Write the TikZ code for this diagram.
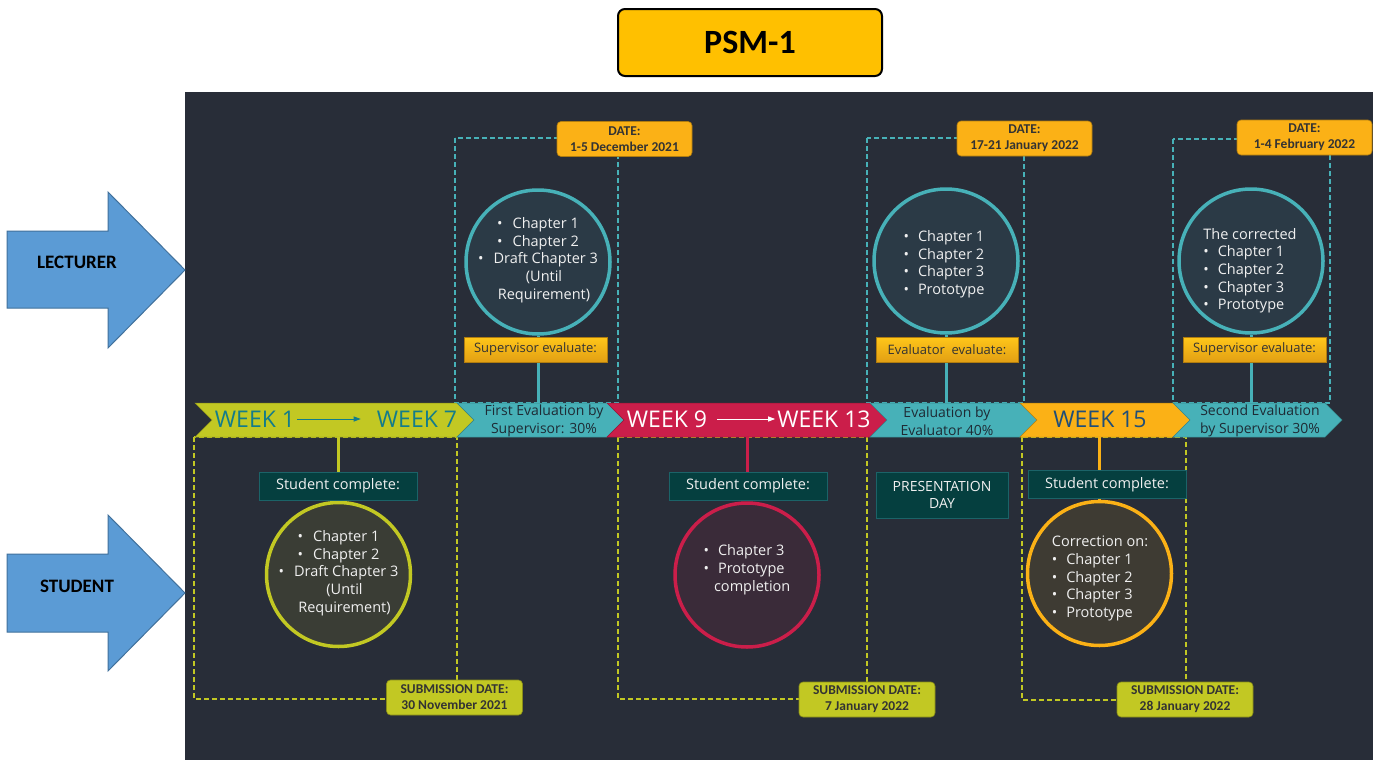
\documentclass[tikz,border=0pt]{standalone}
\usepackage{fontspec}
\setmainfont{Open Sans}
\newfontfamily\calfont{Carlito}
\usetikzlibrary{shapes.symbols,arrows.meta}
\definecolor{panel}{HTML}{282D38}
\definecolor{tealc}{HTML}{47B1B8}
\definecolor{ygc}{HTML}{C2C823}
\definecolor{redc}{HTML}{CB1E4A}
\definecolor{orc}{HTML}{FBB116}
\definecolor{gold}{HTML}{FFC000}
\definecolor{wkteal}{HTML}{137C8B}
\definecolor{wkblue}{HTML}{1F4E79}
\definecolor{segtext}{HTML}{1E2B35}
\definecolor{cup}{HTML}{2B3A46}
\definecolor{cyg}{HTML}{3A3D35}
\definecolor{cred}{HTML}{3A2B39}
\definecolor{cor}{HTML}{3E3B33}
\definecolor{scfill}{HTML}{053F3F}
\definecolor{scdraw}{HTML}{1B6368}
\definecolor{ctext}{HTML}{F0F0F0}
\definecolor{blueA}{HTML}{5B9BD5}
\definecolor{blueB}{HTML}{41719C}
\definecolor{dtext}{HTML}{333333}
\tikzset{
  seg/.style={signal, signal to=east, signal from=west, minimum height=34, inner sep=0, outer sep=0, fill=#1, draw=#1!75!black, line width=0.5},
  segtxt/.style={text=segtext, font=\fontsize{14}{18}\selectfont, align=center},
  wk/.style={font=\fontsize{23}{26}\selectfont, inner sep=2},
  circ/.style={circle, minimum size=144, inner sep=0, line width=3.5},
  ctxt/.style={text=ctext, font=\fontsize{14.5}{17.7}\selectfont, inner sep=0},
  conn/.style={line width=3},
  supbox/.style={minimum width=143, minimum height=25, inner sep=0, top color=gold!90!white, bottom color=orc!90!black, draw=orc!70!black, line width=0.5, text=dtext, font=\fontsize{13}{15}\selectfont},
  scbox/.style={minimum width=158, minimum height=28, inner sep=0, fill=scfill, draw=scdraw, line width=1, text=ctext, font=\fontsize{14.5}{17}\selectfont},
  datebox/.style={minimum width=135, minimum height=35, inner sep=0, rounded corners=4, fill=orc, draw=orc!70!black, line width=0.6, text=dtext, align=center, font=\calfont\bfseries\fontsize{13.5}{16}\selectfont},
  subbox/.style={minimum width=136, minimum height=35, inner sep=0, rounded corners=4, fill=ygc, draw=ygc!70!black, line width=0.6, text=dtext, align=center, font=\calfont\bfseries\fontsize{13.5}{16}\selectfont},
  dteal/.style={tealc, dash pattern=on 5pt off 3pt, line width=1.4},
  dyg/.style={ygc, dash pattern=on 5pt off 3pt, line width=1.4},
  bluearr/.style={fill=blueA, draw=blueB, line width=1},
  side/.style={font=\calfont\bfseries\fontsize{19}{22}\selectfont, text=black},
  wkarrow/.style={-{Triangle[length=7pt,width=5pt]}, line width=0.9}
}
\begin{document}
\begin{tikzpicture}[x=1pt,y=-1pt]
\useasboundingbox (0,0) rectangle (1385,771);
\fill[white] (0,0) rectangle (1385,771);
\fill[panel] (185,92) rectangle (1373,760);

% title
\node[minimum width=264, minimum height=67, rounded corners=7, draw=black, line width=2, fill=gold, font=\calfont\bfseries\fontsize{34}{38}\selectfont] (title) at (750,42.5) {PSM-1};

% side arrows
\draw[bluearr] (7,231) -- (108,231) -- (108,192) -- (185,270) -- (108,348) -- (108,308) -- (7,308) -- cycle;
\node[side] (lect) at (77,262) {LECTURER};
\draw[bluearr] (7,554) -- (108,554) -- (108,515) -- (185,593) -- (108,671) -- (108,632) -- (7,632) -- cycle;
\node[side] (stud) at (77,586) {STUDENT};

% dashed frames
\draw[dteal] (455,138) rectangle (618,403);
\draw[dteal] (867,138) rectangle (1024,403);
\draw[dteal] (1173,139) rectangle (1330,403);
\draw[dyg] (194,437) rectangle (457,699);
\draw[dyg] (618,437) rectangle (867,699);
\draw[dyg] (1022,437) rectangle (1186,700);

% band segments
\node[seg=ygc, minimum width=279] (s1) at (334.5,420) {};
\node[seg=tealc, minimum width=167] (s2) at (540.5,420) {};
\node[seg=redc, minimum width=280] (s3) at (747,420) {};
\node[seg=tealc, minimum width=167] (s4) at (953.5,420) {};
\node[seg=orc, minimum width=172] (s5) at (1106,420) {};
\node[seg=tealc, minimum width=169] (s6) at (1257.5,420) {};

\node[segtxt] (t2) at (544,421) {First Evaluation by\\Supervisor: 30\%};
\node[segtxt] (t4) at (947,421) {Evaluation by\\Evaluator 40\%};
\node[segtxt] (t6) at (1260,421) {Second Evaluation\\by Supervisor 30\%};

\node[wk, text=wkteal] (w1) at (255,419) {WEEK 1};
\node[wk, text=wkteal] (w7) at (417,419) {WEEK 7};
\draw[wkarrow, wkteal] (w1.east) -- ([xshift=-14pt]w7.west);
\node[wk, text=white] (w9) at (667,419) {WEEK 9};
\node[wk, text=white] (w13) at (824,419) {WEEK 13};
\draw[wkarrow, white] ([xshift=8pt]w9.east) -- (w13.west);
\node[wk, text=wkblue] (w15) at (1100,419) {WEEK 15};

% upper circles
\node[circ, draw=tealc, fill=cup] (cu1) at (538,262) {};
\node[circ, draw=tealc, fill=cup] (cu2) at (946,261) {};
\node[circ, draw=tealc, fill=cup] (cu3) at (1251,261) {};
\draw[conn, tealc] (cu1.south) -- (cu1.south |- s2.north);
\draw[conn, tealc] (cu2.south) -- (cu2.south |- s4.north);
\draw[conn, tealc] (cu3.south) -- (cu3.south |- s6.north);
\node[supbox] (sup1) at (535.5,349.5) {Supervisor evaluate:};
\node[supbox, minimum width=142] (ev2) at (947,349.5) {Evaluator\ \ evaluate:};
\node[supbox] (sup3) at (1254.5,349.5) {Supervisor evaluate:};

\node[ctxt, align=center] (tu1) at (538,260) {\textbullet\hspace{10pt}Chapter 1\\\textbullet\hspace{10pt}Chapter 2\\\textbullet\hspace{10pt}Draft Chapter 3\\\hspace{12pt}(Until\\\hspace{12pt}Requirement)};
\node[ctxt] (tu2) at (944,264.5) {\begin{tabular}{@{}l@{\hspace{9pt}}l@{}}\textbullet & Chapter 1\\ \textbullet & Chapter 2\\ \textbullet & Chapter 3\\ \textbullet & Prototype\end{tabular}};
\node[ctxt] (tu3) at (1250,271) {\begin{tabular}{@{}l@{\hspace{9pt}}l@{}}\multicolumn{2}{@{}c@{}}{The corrected}\\ \textbullet & Chapter 1\\ \textbullet & Chapter 2\\ \textbullet & Chapter 3\\ \textbullet & Prototype\end{tabular}};

% lower circles
\node[circ, draw=ygc, fill=cyg] (cl1) at (338.5,574.5) {};
\node[circ, draw=redc, fill=cred] (cl2) at (747,575) {};
\node[circ, draw=orc, fill=cor] (cl3) at (1099.5,573.5) {};
\draw[conn, ygc] (cl1.north |- s1.south) -- (cl1.north);
\draw[conn, redc] (cl2.north |- s3.south) -- (cl2.north);
\draw[conn, orc] (cl3.north |- s5.south) -- (cl3.north);
\node[scbox] (sc1) at (338,486) {Student complete:};
\node[scbox] (sc2) at (748,486) {Student complete:};
\node[scbox] (sc3) at (1107,484.5) {Student complete:};
\node[scbox, minimum width=132, minimum height=46, align=center, font=\fontsize{14}{17}\selectfont] (pres) at (942,495) {PRESENTATION\\DAY};

\node[ctxt, align=center] (tl1) at (338.5,573) {\textbullet\hspace{10pt}Chapter 1\\\textbullet\hspace{10pt}Chapter 2\\\textbullet\hspace{10pt}Draft Chapter 3\\\hspace{12pt}(Until\\\hspace{12pt}Requirement)};
\node[ctxt] (tl2) at (747,570) {\begin{tabular}{@{}l@{\hspace{9pt}}l@{}}\textbullet & Chapter 3\\ \textbullet & Prototype\\ & \hspace{-4pt}completion\end{tabular}};
\node[ctxt] (tl3) at (1100,578.5) {\begin{tabular}{@{}l@{\hspace{9pt}}l@{}}\multicolumn{2}{@{}c@{}}{Correction on:}\\ \textbullet & Chapter 1\\ \textbullet & Chapter 2\\ \textbullet & Chapter 3\\ \textbullet & Prototype\end{tabular}};

% date boxes
\node[datebox] (d1) at (624.5,139) {DATE:\\1-5 December 2021};
\node[datebox] (d2) at (1024.5,138.5) {DATE:\\17-21 January 2022};
\node[datebox] (d3) at (1304.5,137.5) {DATE:\\1-4 February 2022};

% submission boxes
\node[subbox] (b1) at (454.5,697.5) {SUBMISSION DATE:\\30 November 2021};
\node[subbox] (b2) at (867,699.5) {SUBMISSION DATE:\\7 January 2022};
\node[subbox] (b3) at (1185,699.5) {SUBMISSION DATE:\\28 January 2022};
\end{tikzpicture}
\end{document}
